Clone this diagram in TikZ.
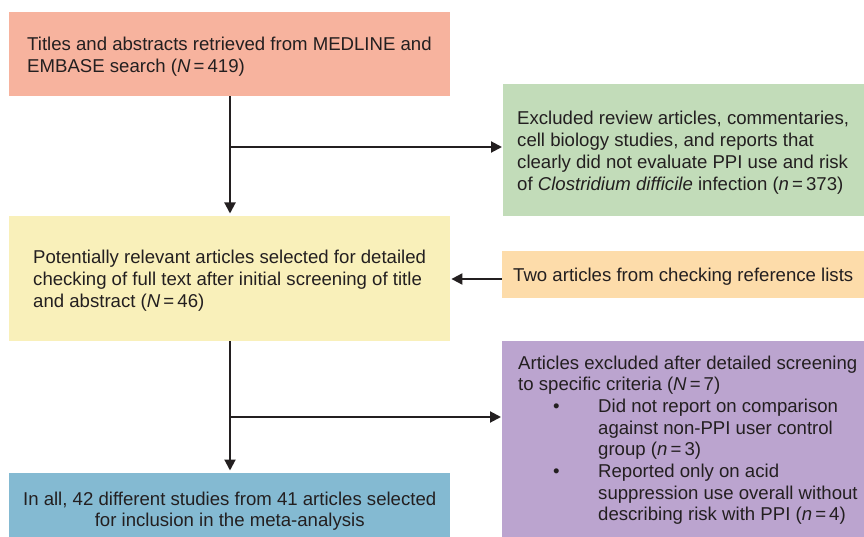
\documentclass[tikz,border=0pt]{standalone}
\usepackage{fontspec}
\setmainfont{Liberation Sans}
\usetikzlibrary{arrows.meta,calc}
\definecolor{txt}{HTML}{231F20}
\definecolor{salmon}{HTML}{F7B39E}
\definecolor{mint}{HTML}{C2DCB9}
\definecolor{butter}{HTML}{F9F0BA}
\definecolor{peach}{HTML}{FDDCAA}
\definecolor{lilac}{HTML}{BBA4CF}
\definecolor{sky}{HTML}{84BAD2}
\begin{document}
\begin{tikzpicture}[x=1pt,y=-1pt,
  box/.style={anchor=north west,inner sep=0pt,draw=none},
  lbl/.style={anchor=west,inner sep=0pt,align=left,text=txt,
    font=\fontsize{18.6pt}{22pt}\selectfont},
  flow/.style={draw=txt,line width=2pt,-{Triangle[length=11pt,width=11pt]}}]
\useasboundingbox (0,0) rectangle (864,537);
% boxes
\node[box,fill=salmon,minimum width=441pt,minimum height=84pt] (b1) at (9,12) {};
\node[box,fill=mint,minimum width=361pt,minimum height=132pt] (b2) at (503,84) {};
\node[box,fill=butter,minimum width=441pt,minimum height=125pt] (b3) at (9,216) {};
\node[box,fill=peach,minimum width=362pt,minimum height=47pt] (b4) at (502,251) {};
\node[box,fill=lilac,minimum width=362pt,minimum height=196pt] (b5) at (502,341) {};
\node[box,fill=sky,minimum width=441pt,minimum height=64pt] (b6) at (9,473) {};
% texts
\node[lbl] (t1) at ($(b1.west)+(18,2)$)
  {Titles and abstracts retrieved from MEDLINE and\\EMBASE search (\textit{N}\,=\,419)};
\node[lbl] (t2) at ($(b2.west)+(14,2)$)
  {Excluded review articles, commentaries,\\cell biology studies, and reports that\\clearly did not evaluate PPI use and risk\\of \textit{Clostridium difficile} infection (\textit{n}\,=\,373)};
\node[lbl] (t3) at ($(b3.west)+(24,2)$)
  {Potentially relevant articles selected for detailed\\checking of full text after initial screening of title\\and abstract (\textit{N}\,=\,46)};
\node[lbl] (t4) at ($(b4.west)+(11,2)$)
  {Two articles from checking reference lists};
\node[lbl,font=\fontsize{18.6pt}{21.7pt}\selectfont] (t5) at ($(b5.west)+(16,1)$)
  {Articles excluded after detailed screening\\to specific criteria (\textit{N}\,=\,7)\\
   \hspace*{35pt}\makebox[45pt][l]{\textbullet}Did not report on comparison\\
   \hspace*{80pt}against non-PPI user control\\
   \hspace*{80pt}group (\textit{n}\,=\,3)\\
   \hspace*{35pt}\makebox[45pt][l]{\textbullet}Reported only on acid\\
   \hspace*{80pt}suppression use overall without\\
   \hspace*{80pt}describing risk with PPI (\textit{n}\,=\,4)};
\node[lbl,anchor=center,align=center,font=\fontsize{18.6pt}{20.5pt}\selectfont] (t6)
  at ($(b6.center)+(0,6)$)
  {In all, 42 different studies from 41 articles selected\\for inclusion in the meta-analysis};
% junction coordinates
\coordinate (j1) at (230,147);
\coordinate (j2) at (230,417);
\coordinate (j3) at (0,279);
% connectors
\draw[flow,shorten >=2.5pt] (b1.south -| j1) -- (b3.north -| j1);
\draw[flow,shorten >=1pt] (j1) -- (j1 -| b2.west);
\draw[flow,shorten >=1pt] (b4.west |- j3) -- (b3.east |- j3);
\draw[flow,shorten >=2.5pt] (b3.south -| j2) -- (b6.north -| j2);
\draw[flow,shorten >=1pt] (j2) -- (j2 -| b5.west);
\end{tikzpicture}
\end{document}
